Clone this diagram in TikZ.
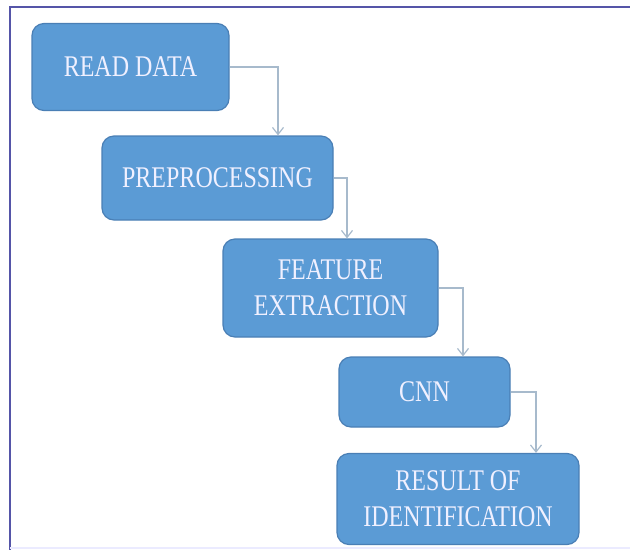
\documentclass[tikz,border=0pt]{standalone}
\usepackage{fontspec}
\setmainfont{Liberation Serif}[FakeStretch=0.8]
\usepackage{tikz}
\usetikzlibrary{arrows.meta}

\definecolor{boxblue}{HTML}{5B9BD5}
\definecolor{boxedge}{HTML}{4A7FB5}
\definecolor{flowgray}{HTML}{A7BACC}
\definecolor{framecol}{HTML}{5555A8}

\tikzset{
  stepbox/.style={draw=boxedge, line width=1.2pt, fill=boxblue, rounded corners=12pt,
    text=white!94!blue, align=center, font=\fontsize{30}{36}\selectfont, inner sep=0pt},
  flow/.style={draw=flowgray, line width=1.2pt, -{Straight Barb[length=7pt,width=11pt]}}
}

\begin{document}
\begin{tikzpicture}[x=1pt, y=-1pt]
\useasboundingbox (0, 0) rectangle (630, 550);

% frame
\draw[framecol, line width=2pt] (630, 7) -- (10, 7) -- (10, 550);
\draw[blue!8, line width=1.5pt] (10, 548) -- (630, 548);

\node[stepbox, minimum width=197pt, minimum height=87pt] (read) at (130.5, 67) {READ DATA};
\node[stepbox, minimum width=231pt, minimum height=84pt] (prep) at (217.5, 178) {PREPROCESSING};
\node[stepbox, minimum width=215pt, minimum height=98pt] (feat) at (330.5, 288) {FEATURE\\EXTRACTION};
\node[stepbox, minimum width=171pt, minimum height=70pt] (cnn) at (424.5, 392) {CNN};
\node[stepbox, minimum width=242pt, minimum height=91pt] (result) at (458, 499) {RESULT OF\\IDENTIFICATION};

\draw[flow] (read.east) -| ([xshift=60.5pt] prep.north);
\draw[flow] (prep.east) -| ([xshift=16.5pt] feat.north);
\draw[flow] (feat.east) -| ([xshift=38.5pt] cnn.north);
\draw[flow] (cnn.east) -| ([xshift=78pt] result.north);
\end{tikzpicture}
\end{document}
